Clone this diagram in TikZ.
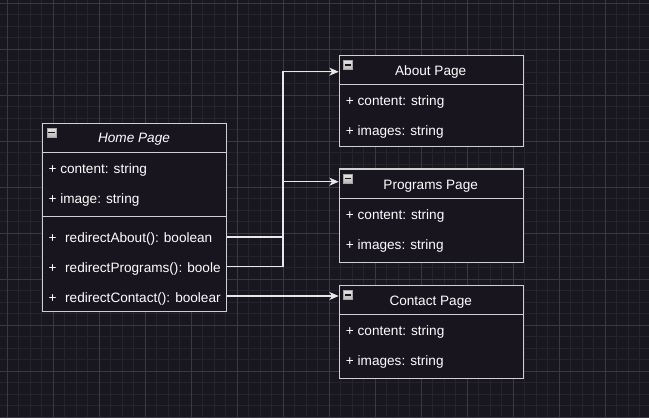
\documentclass[tikz,border=0pt]{standalone}
\usepackage{fontspec}
\setmainfont{Liberation Sans}
\usetikzlibrary{arrows.meta}
\definecolor{bg}{HTML}{18161E}
\definecolor{gridminor}{HTML}{25232B}
\definecolor{gridmajor}{HTML}{3A3840}
\definecolor{boxfill}{HTML}{18151E}
\definecolor{boxline}{HTML}{D0D0D0}
\definecolor{connline}{HTML}{E8E8E8}
\tikzset{
  minorline/.style={draw=gridminor, line width=0.75pt},
  majorline/.style={draw=gridmajor, line width=0.75pt},
  classbox/.style={draw=boxline, fill=boxfill, line width=0.9pt, anchor=north west, inner sep=0pt, minimum width=138pt},
  sepline/.style={draw=boxline, line width=0.9pt},
  rowtext/.style={anchor=west, text=white, font=\fontsize{10.2pt}{12pt}\selectfont, inner sep=0pt, yshift=-1.5pt},
  titletext/.style={anchor=center, text=white, font=\fontsize{10.2pt}{12pt}\selectfont, inner sep=0pt, yshift=-1.5pt},
  conn/.style={draw=connline, line width=0.8pt, -{Stealth[length=7pt,width=6pt,inset=2pt]}},
  connplain/.style={draw=connline, line width=0.8pt},
  iconbox/.style={draw=gray!70, line width=0.4pt, top color=gray!20, bottom color=gray!55},
  iconbar/.style={draw=gray!20!black, line width=1.3pt}
}
\newcommand\collicon[2]{%
  \path[iconbox] (#1,#2) rectangle (#1+9,#2+9);
  \draw[iconbar] (#1+1.2,#2+4.5) -- (#1+7.8,#2+4.5);
}
\begin{document}
\begin{tikzpicture}[x=0.75pt,y=-0.75pt]
\fill[bg] (0,0) rectangle (649,418);
\useasboundingbox (0,0) rectangle (649,418);
% grid
\foreach \k in {0,...,56} {
  \pgfmathsetmacro\xx{7.3+11.5*\k}
  \draw[minorline] (\xx,0) -- (\xx,418);
}
\foreach \k in {0,...,36} {
  \pgfmathsetmacro\yy{3.3+11.5*\k}
  \draw[minorline] (0,\yy) -- (649,\yy);
}
\foreach \k in {0,...,14} {
  \pgfmathsetmacro\xx{7.3+46*\k}
  \draw[majorline] (\xx,0) -- (\xx,418);
}
\foreach \k in {0,...,9} {
  \pgfmathsetmacro\yy{3.3+46*\k}
  \draw[majorline] (0,\yy) -- (649,\yy);
}

% Home Page
\node[classbox, minimum height=141.2pt] (home) at (42,122.7) {};
\draw[sepline] (42,152.3) -- (226,152.3);
\draw[sepline] (42,216.7) -- (226,216.7);
\collicon{47}{128}
\node[titletext, font=\fontsize{10.2pt}{12pt}\selectfont\itshape] (htitle) at (134,137.5) {Home Page};
\node[rowtext] (ha1) at (48.3,168) {+ content: string};
\node[rowtext] (ha2) at (48.3,198) {+ image: string};
\node[rowtext] (m1) at (48.3,237) {+\hspace{6.5pt}redirectAbout(): boolean};
\node[rowtext] (m2) at (48.3,267) {+\hspace{6.5pt}redirectPrograms(): boole};
\node[rowtext] (m3) at (48.3,297) {+\hspace{6.5pt}redirectContact(): boolear};

% About Page
\node[classbox, minimum height=68.25pt] (about) at (338.7,54.7) {};
\draw[sepline] (338.7,84.3) -- (522.7,84.3);
\collicon{343.5}{60.3}
\node[titletext] (atitle) at (430.7,70) {About Page};
\node[rowtext] (aa1) at (345.7,100) {+ content: string};
\node[rowtext] (aa2) at (345.7,130) {+ images: string};

% Programs Page
\node[classbox, minimum height=70pt] (prog) at (338.7,168.3) {};
\draw[sepline] (338.7,198.3) -- (522.7,198.3);
\collicon{343.5}{174}
\node[titletext] (ptitle) at (430.7,184) {Programs Page};
\node[rowtext] (pa1) at (345.7,214) {+ content: string};
\node[rowtext] (pa2) at (345.7,244) {+ images: string};

% Contact Page
\node[classbox, minimum height=69.75pt] (contact) at (338.7,284.7) {};
\draw[sepline] (338.7,314.3) -- (522.7,314.3);
\collicon{343.5}{290.3}
\node[titletext] (ctitle) at (430.7,300) {Contact Page};
\node[rowtext] (ca1) at (345.7,330) {+ content: string};
\node[rowtext] (ca2) at (345.7,360) {+ images: string};

% connectors
\coordinate (jx) at (283,0);
\coordinate (aIn) at (0,71.7);
\coordinate (pIn) at (0,181.7);
\coordinate (cIn) at (0,296);
\draw[conn] (home.east |- 0,237) -- (jx |- 0,237) -- (aIn -| jx) -- (aIn -| about.west);
\draw[connplain] (home.east |- 0,266.5) -- (jx |- 0,266.5) -- (pIn -| jx);
\draw[conn] (pIn -| jx) -- (pIn -| prog.west);
\draw[conn] (cIn -| home.east) -- (cIn -| contact.west);
\end{tikzpicture}
\end{document}
